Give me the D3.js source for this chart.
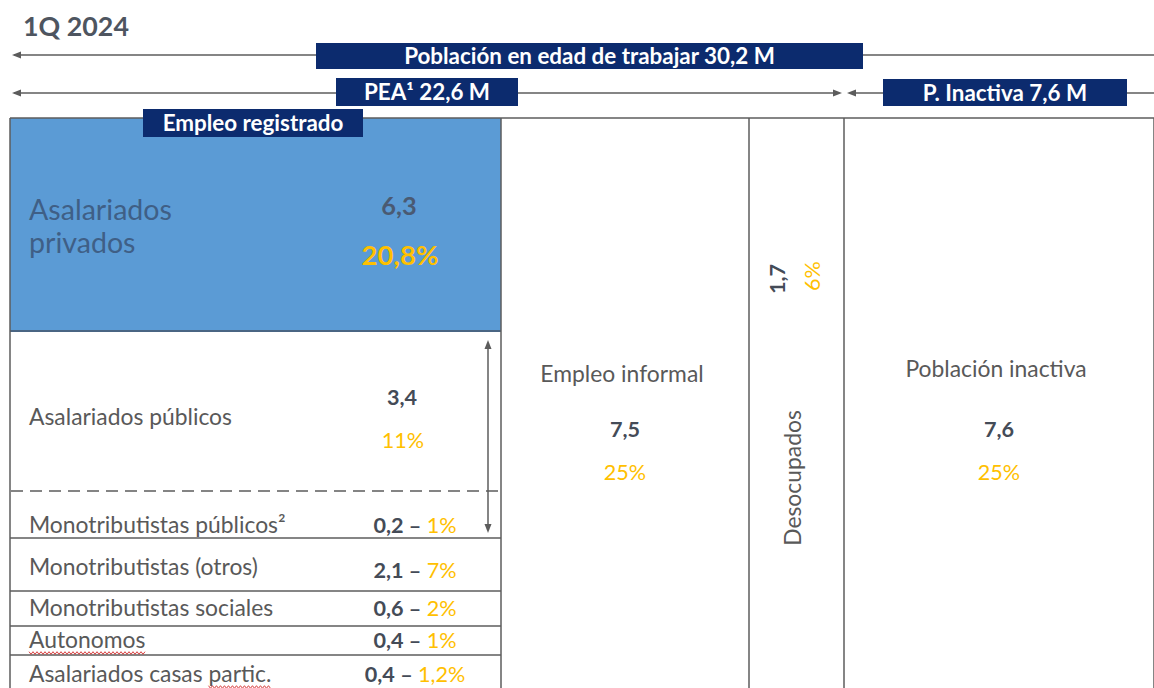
<!DOCTYPE html>
<html>
<head>
<meta charset="utf-8">
<script src="https://cdn.jsdelivr.net/npm/d3@7"></script>
<style>
body { margin: 0; background: #fff; }
text { font-family: Lato, "Open Sans", sans-serif; }
</style>
</head>
<body>
<div id="chart"></div>
<script>
// millones de personas, 1Q 2024
var periodo = "1Q 2024";

var totales = ["Población en edad de trabajar", "PEA¹", "P. Inactiva"];
var totalValores = [30.2, 22.6, 7.6];

var registrados = ["Asalariados privados", "Asalariados públicos", "Monotributistas públicos²",
                   "Monotributistas (otros)", "Monotributistas sociales", "Autonomos",
                   "Asalariados casas partic."];
var regValores = [6.3, 3.4, 0.2, 2.1, 0.6, 0.4, 0.4];
var regShares = [20.8, 11, 1, 7, 2, 1, 1.2];

var columnas = ["Empleo informal", "Desocupados", "Población inactiva"];
var colValores = [7.5, 1.7, 7.6];
var colShares = [25, 6, 25];

var w = 1154;
var h = 688;

var loc = d3.formatLocale({decimal: ",", thousands: ".", grouping: [3], currency: ["$", ""]});
var fmtV = loc.format(".1f");
var fmtP = function(v) { return loc.format(".1~f")(v) + "%"; };

var gris = "#595959";
var oscuro = "#444b57";
var amarillo = "#ffc000";
var navy = "#0c2b6e";
var linea = "#5c5c5c";

var svg = d3.select("#chart")
            .append("svg")
            .attr("width", w)
            .attr("height", h)
            .style("background-color", "#fff");

// tamaño de letra que da un ancho dado
function fitSize(str, weight, target) {
  var t = svg.append("text").attr("font-weight", weight).attr("font-size", 100).text(str);
  var tw = t.node().getComputedTextLength();
  t.remove();
  return 100 * target / tw;
}
var titleSize = fitSize(periodo, "bold", 106);
var boxSize = fitSize(totales[0] + " " + fmtV(totalValores[0]) + " M", "bold", 371);
var bigSize = fitSize("Asalariados", "normal", 143);
var labelSize = fitSize("Monotributistas (otros)", "normal", 229);
var valSize = fitSize("0,4 – 1,2%", "bold", 101);
var bigValSize = fitSize("20,8%", "bold", 77);

// columnas: borde izquierdo de cada una
var colX = d3.scaleOrdinal()
             .domain(["Empleo registrado"].concat(columnas))
             .range([10, 501, 749, 844]);
var colRight = d3.scaleOrdinal()
             .domain(["Empleo registrado"].concat(columnas))
             .range([501, 749, 844, 1154]);

// filas del empleo registrado: borde superior
var rowY = d3.scaleOrdinal()
             .domain(registrados)
             .range([118, 331, 491, 538, 591, 626, 655]);
var rowBottom = function(d) {
  var i = registrados.indexOf(d);
  return i < registrados.length - 1 ? rowY(registrados[i + 1]) : h;
};

// flechas
function arrowHead(x, y, dir) {
  svg.append("path")
     .attr("d", d3.line()([[x, y], [x + dir * 9, y - 3.5], [x + dir * 9, y + 3.5]]) + "Z")
     .attr("fill", linea);
}
function hline(x1, x2, y) {
  svg.append("line").attr("x1", x1).attr("x2", x2).attr("y1", y).attr("y2", y)
     .attr("stroke", linea).attr("stroke-width", 1.5);
}
function vline(x, y1, y2) {
  svg.append("line").attr("x1", x).attr("x2", x).attr("y1", y1).attr("y2", y2)
     .attr("stroke", linea).attr("stroke-width", 1.5);
}

// titulo
svg.append("text")
   .attr("x", 23).attr("y", 36)
   .attr("font-size", titleSize).attr("font-weight", "bold")
   .attr("fill", "#4e5560")
   .text(periodo);

// lineas de totales
hline(14, w, 55);
arrowHead(12, 55, 1);
hline(14, 838, 93);
arrowHead(12, 93, 1);
arrowHead(842, 93, -1);
arrowHead(847, 93, 1);
hline(854, w, 93);

// cajas de totales
var cajas = [
  {t: totales[0] + " " + fmtV(totalValores[0]) + " M", x0: 316, x1: 863, y0: 43, y1: 69},
  {t: totales[1] + " " + fmtV(totalValores[1]) + " M", x0: 336, x1: 518, y0: 78, y1: 106},
  {t: totales[2] + " " + fmtV(totalValores[2]) + " M", x0: 883, x1: 1127, y0: 79, y1: 106}
];

// tabla
svg.append("rect")
   .attr("x", colX("Empleo registrado")).attr("y", rowY(registrados[0]))
   .attr("width", colRight("Empleo registrado") - colX("Empleo registrado"))
   .attr("height", rowY(registrados[1]) - rowY(registrados[0]))
   .attr("fill", "#5b9bd5");

hline(10, w, 118);
svg.append("line").attr("x1", 10).attr("x2", 501)
   .attr("y1", rowY(registrados[1])).attr("y2", rowY(registrados[1]))
   .attr("stroke", "#4a6583").attr("stroke-width", 2);

registrados.slice(3).forEach(function(d) { hline(10, 501, rowY(d)); });
svg.append("line").attr("x1", 11).attr("x2", 501)
   .attr("y1", rowY(registrados[2])).attr("y2", rowY(registrados[2]))
   .attr("stroke", linea).attr("stroke-width", 1.5)
   .attr("stroke-dasharray", "12,7");

vline(10, 118, h);
["Empleo registrado"].concat(columnas).forEach(function(d) { vline(colRight(d), 118, h); });

// flecha vertical de sector publico
vline(488, 345, 528);
svg.append("path").attr("d", d3.line()([[488, 340], [484.5, 349], [491.5, 349]]) + "Z").attr("fill", linea);
svg.append("path").attr("d", d3.line()([[488, 533], [484.5, 524], [491.5, 524]]) + "Z").attr("fill", linea);

// cajas azules oscuras
cajas.push({t: "Empleo registrado", x0: 143, x1: 363, y0: 109, y1: 137});
cajas.forEach(function(c) {
  svg.append("rect")
     .attr("x", c.x0).attr("y", c.y0)
     .attr("width", c.x1 - c.x0).attr("height", c.y1 - c.y0)
     .attr("fill", navy);
  svg.append("text")
     .attr("x", (c.x0 + c.x1) / 2).attr("y", (c.y0 + c.y1) / 2)
     .attr("dy", "0.36em")
     .attr("text-anchor", "middle")
     .attr("font-size", boxSize).attr("font-weight", "bold")
     .attr("fill", "#fff")
     .text(c.t);
});

// asalariados privados
svg.append("text")
   .attr("x", 29).attr("y", 220)
   .attr("font-size", bigSize).attr("fill", "#3f5f86")
   .selectAll("tspan")
   .data(registrados[0].split(" "))
   .enter().append("tspan")
   .attr("x", 29).attr("y", function(d, i) { return 220 + i * 33; })
   .text(function(d) { return d; });
svg.append("text")
   .attr("x", 399).attr("y", 215).attr("text-anchor", "middle")
   .attr("font-size", bigValSize * 0.92).attr("font-weight", "bold").attr("fill", "#4a5a72")
   .text(fmtV(regValores[0]));
svg.append("text")
   .attr("x", 400).attr("y", 265).attr("text-anchor", "middle")
   .attr("font-size", bigValSize).attr("font-weight", "bold").attr("fill", amarillo)
   .text(fmtP(regShares[0]));

// asalariados publicos
svg.append("text")
   .attr("x", 29).attr("y", 425)
   .attr("font-size", labelSize).attr("fill", gris)
   .text(registrados[1]);
svg.append("text")
   .attr("x", 402).attr("y", 405).attr("text-anchor", "middle")
   .attr("font-size", valSize).attr("font-weight", "bold").attr("fill", oscuro)
   .text(fmtV(regValores[1]));
svg.append("text")
   .attr("x", 403).attr("y", 448).attr("text-anchor", "middle")
   .attr("font-size", valSize).attr("fill", amarillo)
   .text(fmtP(regShares[1]));

// filas pequeñas
var baseDy = {"Monotributistas públicos²": -5, "Monotributistas (otros)": -16,
              "Monotributistas sociales": -10, "Autonomos": -7, "Asalariados casas partic.": -6};
var small = registrados.slice(2);
var labels = svg.selectAll(".fila")
   .data(small)
   .enter().append("text")
   .attr("class", "fila")
   .attr("x", 29)
   .attr("y", function(d) { return rowBottom(d) + baseDy[d]; })
   .attr("font-size", labelSize).attr("fill", gris)
   .text(function(d) { return d; });

var vals = svg.selectAll(".valor")
   .data(small)
   .enter().append("text")
   .attr("class", "valor")
   .attr("x", 415)
   .attr("y", function(d) { return rowBottom(d) + baseDy[d] + (d === "Monotributistas (otros)" ? 3 : 0); })
   .attr("text-anchor", "middle")
   .attr("font-size", valSize).attr("font-weight", "bold");
vals.append("tspan").attr("fill", oscuro)
    .text(function(d) { return fmtV(regValores[registrados.indexOf(d)]) + " – "; });
vals.append("tspan").attr("fill", amarillo).attr("font-weight", "normal")
    .text(function(d) { return fmtP(regShares[registrados.indexOf(d)]); });

// subrayado ondulado del corrector
function wavy(x0, x1, y) {
  var pts = d3.range(x0, x1, 2).map(function(x, i) { return [x, y + (i % 2 ? 1.3 : -1.3)]; });
  svg.append("path").attr("d", d3.line()(pts))
     .attr("fill", "none").attr("stroke", "#d84040").attr("stroke-width", 1);
}
labels.each(function(d) {
  var node = this, y = +d3.select(node).attr("y") + 5;
  if (d === "Autonomos") wavy(29, 29 + node.getComputedTextLength(), y);
  if (d === "Asalariados casas partic.") {
    var i = d.indexOf("partic.");
    var xs = 29 + node.getSubStringLength(0, i);
    wavy(xs, 29 + node.getComputedTextLength(), y);
  }
});

// columnas de la derecha
function colCenter(d) { return (colX(d) + colRight(d)) / 2; }

[columnas[0], columnas[2]].forEach(function(d) {
  var i = columnas.indexOf(d);
  var cx = colCenter(d) - 3;
  svg.append("text")
     .attr("x", cx).attr("y", i === 0 ? 382 : 377).attr("text-anchor", "middle")
     .attr("font-size", labelSize).attr("fill", gris)
     .text(d);
  svg.append("text")
     .attr("x", cx + 3).attr("y", 437).attr("text-anchor", "middle")
     .attr("font-size", valSize).attr("font-weight", "bold").attr("fill", oscuro)
     .text(fmtV(colValores[i]));
  svg.append("text")
     .attr("x", cx + 3).attr("y", 480).attr("text-anchor", "middle")
     .attr("font-size", valSize).attr("fill", amarillo)
     .text(fmtP(colShares[i]));
});

// desocupados (texto vertical)
var dx = colX(columnas[1]);
svg.append("text")
   .attr("transform", "translate(" + (dx + 52) + ",478) rotate(-90)")
   .attr("text-anchor", "middle")
   .attr("font-size", labelSize).attr("fill", gris)
   .text(columnas[1]);
svg.append("text")
   .attr("transform", "translate(" + (dx + 36) + ",279) rotate(-90)")
   .attr("text-anchor", "middle")
   .attr("font-size", valSize).attr("font-weight", "bold").attr("fill", oscuro)
   .text(fmtV(colValores[1]));
svg.append("text")
   .attr("transform", "translate(" + (dx + 71) + ",276) rotate(-90)")
   .attr("text-anchor", "middle")
   .attr("font-size", valSize).attr("fill", amarillo)
   .text(fmtP(colShares[1]));
</script>
</body>
</html>
